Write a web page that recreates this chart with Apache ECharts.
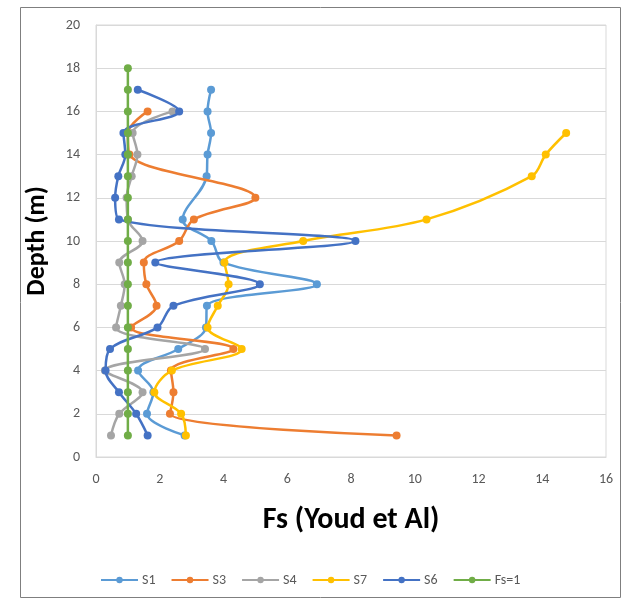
<!DOCTYPE html>
<html>
<head>
<meta charset="utf-8">
<script src="https://cdn.jsdelivr.net/npm/echarts@6/dist/echarts.min.js"></script>
<style>
html,body{margin:0;padding:0;background:#fff;}
#chart{width:624px;height:603px;}
</style>
</head>
<body>
<div id="chart"></div>
<script>
// Depth (m) of each reading, top to bottom
const depths = [18, 17, 16, 15, 14, 13, 12, 11, 10, 9, 8, 7, 6, 5, 4, 3, 2, 1];
// Factor of safety per series (null = no reading at that depth)
const S1 = [null, 3.61, 3.50, 3.61, 3.50, 3.47, null, 2.72, 3.62, 4.00, 6.93, 3.48, 3.45, 2.58, 1.32, 1.80, 1.60, 2.78];
const S3 = [null, null, 1.62, 1.00, 1.05, null, 5.00, 3.07, 2.61, 1.50, 1.58, 1.90, 1.10, 4.31, 2.35, 2.43, 2.32, 9.43];
const S4 = [null, null, 2.40, 1.15, 1.30, 1.12, 0.96, 1.00, 1.46, 0.73, 0.90, 0.78, 0.63, 3.42, 0.28, 1.46, 0.73, 0.47];
const S7 = [null, null, null, 14.75, 14.11, 13.67, null, 10.37, 6.50, 4.03, 4.16, 3.82, 3.50, 4.57, 2.38, 1.83, 2.67, 2.82];
const S6 = [null, 1.31, 2.61, 0.86, 0.92, 0.70, 0.60, 0.72, 8.14, 1.86, 5.14, 2.43, 1.93, 0.44, 0.30, 0.72, 1.26, 1.62];
const FS1 = [1, 1, 1, 1, 1, 1, 1, 1, 1, 1, 1, 1, 1, 1, 1, 1, 1, 1];

const seriesNames = ['S1', 'S3', 'S4', 'S7', 'S6', 'Fs=1'];
const seriesValues = [S1, S3, S4, S7, S6, FS1];
const seriesColors = ['#5B9BD5', '#ED7D31', '#A5A5A5', '#FFC000', '#4472C4', '#70AD47'];

const xTicks = [0, 2, 4, 6, 8, 10, 12, 14, 16];
const yTicks = [0, 2, 4, 6, 8, 10, 12, 14, 16, 18, 20];

const FONT = 'Carlito, Lato, "Liberation Sans", sans-serif';

function pairs(vals) {
  const out = [];
  vals.forEach((v, i) => { if (v !== null) out.push([v, depths[i]]); });
  return out;
}

const chart = echarts.init(document.getElementById('chart'), null, {renderer: 'canvas'});
chart.setOption({
  animation: false,
  backgroundColor: '#fff',
  textStyle: {fontFamily: FONT},
  graphic: [{
    type: 'rect',
    shape: {x: 20.5, y: 7.5, width: 600, height: 590},
    style: {fill: 'none', stroke: '#7f7f7f', lineWidth: 1},
    silent: true
  }],
  grid: {
    left: 96, top: 25, width: 510, height: 432,
    show: true, borderColor: '#d9d9d9', borderWidth: 1, backgroundColor: 'transparent'
  },
  xAxis: {
    type: 'value', min: xTicks[0], max: xTicks[xTicks.length - 1], interval: 2,
    name: 'Fs (Youd et Al)', nameLocation: 'middle', nameGap: 48,
    nameTextStyle: {fontFamily: FONT, fontSize: 30, fontWeight: 'bold', color: '#000'},
    axisLine: {show: true, lineStyle: {color: '#d9d9d9'}},
    axisTick: {show: false},
    splitLine: {show: false},
    axisLabel: {color: '#595959', fontSize: 14, margin: 15, fontFamily: FONT}
  },
  yAxis: {
    type: 'value', min: yTicks[0], max: yTicks[yTicks.length - 1], interval: 2,
    name: 'Depth (m)', nameLocation: 'middle', nameGap: 46,
    nameTextStyle: {fontFamily: FONT, fontSize: 26, fontWeight: 'bold', color: '#000'},
    axisLine: {show: true, lineStyle: {color: '#d9d9d9'}},
    axisTick: {show: false},
    splitLine: {show: true, lineStyle: {color: '#d9d9d9', width: 1}},
    axisLabel: {color: '#595959', fontSize: 14, margin: 16, fontFamily: FONT}
  },
  legend: {
    data: seriesNames,
    left: 95, top: 568,
    itemWidth: 37, itemHeight: 8, itemGap: 15,
    textStyle: {color: '#595959', fontSize: 14, fontFamily: FONT, padding: [0, 0, 0, -1]}
  },
  series: seriesNames.map((name, k) => ({
    name: name,
    type: 'line',
    data: pairs(seriesValues[k]),
    smooth: 0.35,
    symbol: 'circle',
    symbolSize: 8,
    showSymbol: true,
    clip: false,
    lineStyle: {color: seriesColors[k], width: 2.5},
    itemStyle: {color: seriesColors[k], borderWidth: 0},
    z: 2 + k
  }))
});
</script>
</body>
</html>
